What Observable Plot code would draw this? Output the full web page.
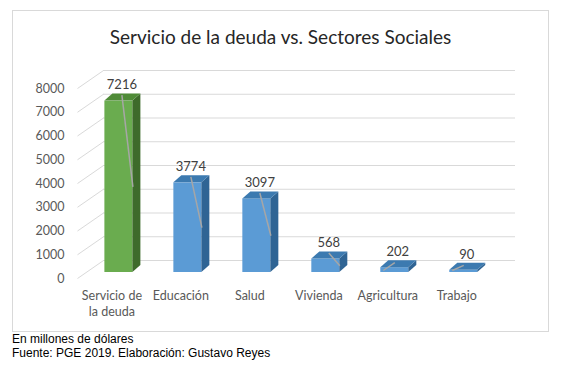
<!DOCTYPE html>
<html>
<head>
<meta charset="utf-8">
<script src="https://cdn.jsdelivr.net/npm/d3@7"></script>
<script src="https://cdn.jsdelivr.net/npm/@observablehq/plot@0.6"></script>
<style>
  html, body { margin: 0; padding: 0; background: #fff; }
  body { position: relative; width: 561px; height: 368px; overflow: hidden; }
  #frame { position: absolute; left: 12px; top: 10px; width: 537px; height: 322px; box-sizing: border-box; border: 1px solid #d9d9d9; }
  #title { position: absolute; left: 0; top: 22px; width: 561px; text-align: center; font-family: Lato, sans-serif; font-size: 19px; color: #262626; line-height: 30px; }
  #chart { position: absolute; left: 0; top: 58px; }
  #caption { position: absolute; left: 12px; top: 332px; font-family: "Liberation Sans", Arial, sans-serif; font-size: 12px; line-height: 14px; color: #000; }
</style>
</head>
<body>
<div id="frame"></div>
<div id="title">Servicio de la deuda vs. Sectores Sociales</div>
<div id="chart"></div>
<div id="caption">En millones de dólares<br>Fuente: PGE 2019. Elaboración: Gustavo Reyes</div>
<script>
// ---- data ----
const categories = ["Servicio de\nla deuda", "Educación", "Salud", "Vivienda", "Agricultura", "Trabajo"];
const values = [7216, 3774, 3097, 568, 202, 90];
const groups = ["deuda", "social", "social", "social", "social", "social"];
const yTicks = [0, 1000, 2000, 3000, 4000, 5000, 6000, 7000, 8000];

// ---- styles ----
const frontColor = {deuda: "#6aac4f", social: "#5b9bd5"};
const sideColor  = {deuda: "#3e6b2b", social: "#2f6494"};
const topColor   = {deuda: "#4f8b37", social: "#3c7ab0"};

const W = 561, H = 274;
const mL = 77, mR = 46, mT = 24, mB = 60;
const xDom = [-0.6, 5.75], yDom = [0, 8000];
const pxX = (W - mL - mR) / (xDom[1] - xDom[0]);   // px per x unit
const pxY = (H - mT - mB) / (yDom[1] - yDom[0]);   // px per y unit
const hw = 14 / pxX;          // half bar width
const dX = 8 / pxX, dY = 7 / pxY;   // bar depth
const gX = 26 / pxX, gY = 18 / pxY; // floor/wall depth

const bars = values.map((v, i) => ({i, v, cat: categories[i], g: groups[i]}));
const sideVerts = bars.flatMap(b => [
  {i: b.i, g: b.g, x: b.i + hw, y1: 0, y2: b.v},
  {i: b.i, g: b.g, x: b.i + hw + dX, y1: dY, y2: b.v + dY}
]);
const topVerts = bars.flatMap(b => [
  {i: b.i, g: b.g, y: b.v, x1: b.i - hw, x2: b.i + hw},
  {i: b.i, g: b.g, y: b.v + dY, x1: b.i - hw + dX, x2: b.i + hw + dX}
]);
const small = v => v < 400;

const chart = Plot.plot({
  width: W, height: H,
  marginLeft: mL, marginRight: mR, marginTop: mT, marginBottom: mB,
  x: {domain: xDom, axis: null},
  y: {domain: yDom, axis: null},
  color: {type: "identity"},
  style: {fontFamily: "Lato, sans-serif", background: "transparent", overflow: "visible"},
  marks: [
    // back wall gridlines
    Plot.ruleY(yTicks, {y: d => d, x1: xDom[0] + gX, x2: xDom[1], dy: -12, stroke: "#d9d9d9", strokeWidth: 1}),
    // floor/side diagonals
    Plot.link(yTicks, {x1: xDom[0], y1: d => d, x2: xDom[0] + gX, y2: d => d + gY, dy: 6, stroke: "#d9d9d9", strokeWidth: 1}),
    // y tick labels
    Plot.text(yTicks, {x: xDom[0], y: d => d, text: d => String(d), dx: -13, dy: 6, textAnchor: "end", fill: "#595959", fontSize: 12.5}),
    // bars: front, side, top
    Plot.rect(bars, {x1: d => d.i - hw, x2: d => d.i + hw, y1: d => 0, y2: "v", fill: d => frontColor[d.g]}),
    Plot.areaY(sideVerts, {x: "x", y1: "y1", y2: "y2", z: "i", fill: d => sideColor[d.g]}),
    Plot.areaX(topVerts, {y: "y", x1: "x1", x2: "x2", z: "i", fill: d => topColor[d.g]}),
    // leader lines
    Plot.link(bars, {
      x1: d => small(d.v) ? d.i - hw + 2.5 / pxX : d.i + 3 / pxX,
      y1: d => small(d.v) ? 2 / pxY : d.v + 6 / pxY,
      x2: d => small(d.v) ? d.i : d.i + hw,
      y2: d => small(d.v) ? d.v + 5 / pxY : d.v / 2,
      stroke: "#a6a6a6", strokeWidth: 1.5
    }),
    // value labels
    Plot.text(bars, {x: d => d.i + 3 / pxX, y: "v", text: d => String(d.v), dy: -16, fill: "#404040", fontSize: 13}),
    // category labels
    Plot.text(bars, {x: "i", y: d => 0, text: "cat", dx: -7, dy: 16, lineAnchor: "top", lineHeight: 1.3, fill: "#595959", fontSize: 12.5})
  ]
});
document.getElementById("chart").appendChild(chart);
</script>
</body>
</html>
